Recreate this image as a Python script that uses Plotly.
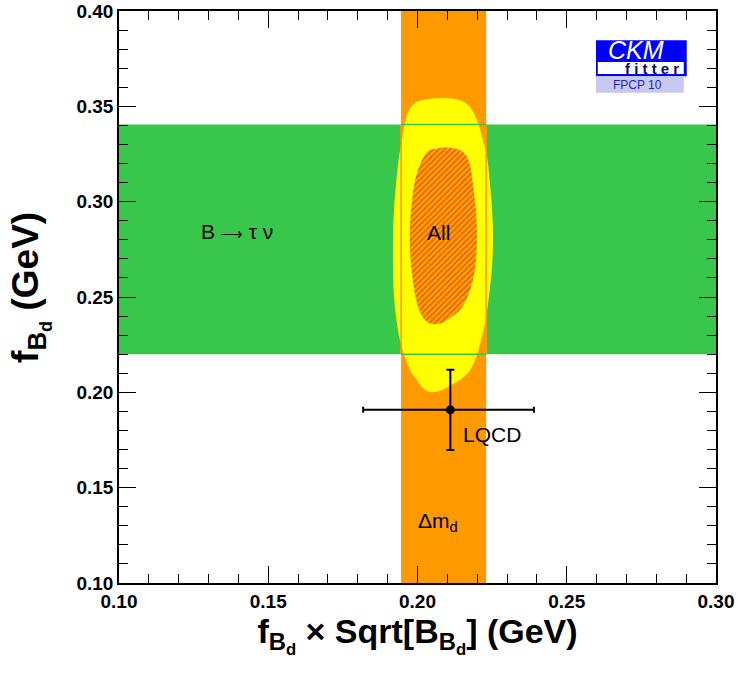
import plotly.graph_objects as go

# ---- data ----
dm_band = [0.1945, 0.2230]          # Delta m_d band in x (f_Bd*sqrt(B_Bd))
btau_band = [0.2200, 0.3405]        # B -> tau nu band in y (f_Bd)

all_outer_x = [0.2018, 0.2075, 0.2126, 0.2149, 0.2166, 0.2183, 0.2203, 0.2219, 0.2233, 0.2243,
               0.2250, 0.2253, 0.2250, 0.2240, 0.2226, 0.2206, 0.2186, 0.2169, 0.2142, 0.2109,
               0.2075, 0.2042, 0.2018, 0.1998, 0.1975, 0.1958, 0.1941, 0.1931, 0.1921, 0.1918,
               0.1918, 0.1921, 0.1928, 0.1938, 0.1948, 0.1958, 0.1972, 0.1992]
all_outer_y = [0.3533, 0.3544, 0.3539, 0.3528, 0.3512, 0.3481, 0.3413, 0.3324, 0.3234, 0.3088,
               0.2957, 0.2815, 0.2668, 0.2511, 0.2364, 0.2233, 0.2144, 0.2102, 0.2065, 0.2034,
               0.2007, 0.2002, 0.2023, 0.2065, 0.2117, 0.2186, 0.2275, 0.2364, 0.2511, 0.2668,
               0.2815, 0.2957, 0.3088, 0.3234, 0.3324, 0.3413, 0.3481, 0.3518]

all_inner_x = [0.2042, 0.2075, 0.2116, 0.2142, 0.2162, 0.2176, 0.2186, 0.2196, 0.2199, 0.2196,
               0.2186, 0.2166, 0.2142, 0.2109, 0.2082, 0.2049, 0.2025, 0.2008, 0.1992, 0.1982,
               0.1975, 0.1975, 0.1982, 0.1992, 0.2008, 0.2025]
all_inner_y = [0.3271, 0.3282, 0.3282, 0.3271, 0.3245, 0.3192, 0.3088, 0.2957, 0.2825, 0.2694,
               0.2589, 0.2495, 0.2432, 0.2390, 0.2364, 0.2359, 0.2380, 0.2422, 0.2511, 0.2616,
               0.2747, 0.2878, 0.3009, 0.3114, 0.3192, 0.3245]

lqcd_x = [0.2110]
lqcd_y = [0.1908]
lqcd_xerr_minus = [0.0292]
lqcd_xerr_plus = [0.0280]
lqcd_yerr = [0.0210]

x_range = [0.10, 0.30]
y_range = [0.10, 0.40]

GREEN = "#38c74a"
ORANGE = "#ff9900"
YELLOW = "#ffff00"
FONT = "Liberation Sans, Arial, sans-serif"

fig = go.Figure()

# B -> tau nu band
fig.add_trace(go.Scatter(
    x=[x_range[0], x_range[1], x_range[1], x_range[0], x_range[0]],
    y=[btau_band[0], btau_band[0], btau_band[1], btau_band[1], btau_band[0]],
    fill="toself", fillcolor=GREEN, mode="lines", line=dict(width=0),
    hoverinfo="skip", showlegend=False))
# Delta m_d band
fig.add_trace(go.Scatter(
    x=[dm_band[0], dm_band[1], dm_band[1], dm_band[0], dm_band[0]],
    y=[y_range[0], y_range[0], y_range[1], y_range[1], y_range[0]],
    fill="toself", fillcolor=ORANGE, mode="lines", line=dict(width=0),
    hoverinfo="skip", showlegend=False))
# All: outer contour
fig.add_trace(go.Scatter(
    x=all_outer_x + all_outer_x[:1], y=all_outer_y + all_outer_y[:1],
    fill="toself", fillcolor=YELLOW, mode="lines", line=dict(width=0, shape="spline"),
    hoverinfo="skip", showlegend=False))
# All: inner hatched contour
fig.add_trace(go.Scatter(
    x=all_inner_x + all_inner_x[:1], y=all_inner_y + all_inner_y[:1],
    fill="toself", fillcolor="#ffb400", mode="lines", line=dict(width=0, shape="spline"),
    fillpattern=dict(shape="/", fgcolor="#dc1e14", bgcolor="#ffb400", size=4, solidity=0.6),
    hoverinfo="skip", showlegend=False))
# band outlines visible on top of the contour
for xv in dm_band:
    fig.add_trace(go.Scatter(x=[xv, xv], y=btau_band, mode="lines",
                             line=dict(color=ORANGE, width=1.5), hoverinfo="skip", showlegend=False))
for yv in btau_band:
    fig.add_trace(go.Scatter(x=dm_band, y=[yv, yv], mode="lines",
                             line=dict(color=GREEN, width=1.5), hoverinfo="skip", showlegend=False))
# LQCD point
fig.add_trace(go.Scatter(
    x=lqcd_x, y=lqcd_y, mode="markers",
    marker=dict(color="black", size=9),
    error_x=dict(type="data", symmetric=False, array=lqcd_xerr_plus, arrayminus=lqcd_xerr_minus,
                 color="black", thickness=2, width=3),
    error_y=dict(type="data", array=lqcd_yerr, color="black", thickness=2, width=4),
    hoverinfo="skip", showlegend=False))

txt = dict(family=FONT, size=21, color="black")
fig.add_annotation(x=0.1395, y=0.2841,
                   text="B <span style='font-size:15px'>⟶</span> τ ν", showarrow=False, font=txt)
fig.add_annotation(x=0.2069, y=0.2840, text="All", showarrow=False, font=txt)
fig.add_annotation(x=0.2146, y=0.1777, text="LQCD", showarrow=False, font=txt, xanchor="left")
fig.add_annotation(x=0.2069, y=0.1320, text="Δm<sub>d</sub>", showarrow=False, font=txt)

# CKMfitter logo (paper coordinates of the plot area)
fig.add_shape(type="rect", xref="paper", yref="paper", x0=0.799, x1=0.951, y0=0.886, y1=0.949,
              fillcolor="#0000ff", line=dict(width=0), layer="above")
fig.add_shape(type="rect", xref="paper", yref="paper", x0=0.802, x1=0.946, y0=0.890, y1=0.911,
              fillcolor="white", line=dict(width=0), layer="above")
fig.add_shape(type="rect", xref="paper", yref="paper", x0=0.799, x1=0.946, y0=0.857, y1=0.885,
              fillcolor="#c8c8f0", line=dict(width=0), layer="above")
fig.add_annotation(xref="paper", yref="paper", x=0.866, y=0.931, text="CKM", showarrow=False,
                   xanchor="center", yanchor="middle",
                   font=dict(family=FONT, size=25, color="white", style="italic"))
fig.add_annotation(xref="paper", yref="paper", x=0.892, y=0.900, text="f i t t e r", showarrow=False,
                   xanchor="center", yanchor="middle",
                   font=dict(family=FONT, size=15, color="#0a0a6e", weight="bold"))
fig.add_annotation(xref="paper", yref="paper", x=0.869, y=0.871, text="FPCP 10", showarrow=False,
                   xanchor="center", yanchor="middle",
                   font=dict(family=FONT, size=12, color="#2222cc"))

axfont = dict(family=FONT, size=19, color="black", weight="bold")
titlefont = dict(family=FONT, size=34, color="black", weight="bold")

# y-axis title as rotated annotation (for precise placement)
fig.add_annotation(xref="paper", yref="paper", x=-0.148, y=0.517, text="f<sub>B<sub>d</sub></sub> (GeV)",
                   textangle=-90, showarrow=False, xanchor="center", yanchor="middle",
                   font=dict(family=FONT, size=37, color="black", weight="bold"))

fig.update_xaxes(range=x_range, tick0=0.10, dtick=0.05, tickformat=".2f",
                 ticks="inside", ticklen=17, tickwidth=1, tickcolor="black",
                 minor=dict(dtick=0.01, ticks="inside", ticklen=9, tickwidth=1, tickcolor="black"),
                 showline=True, linecolor="black", linewidth=1.5, mirror="ticks",
                 showgrid=False, zeroline=False, tickfont=axfont, automargin=False,
                 ticklabeloverflow="allow",
                 title=dict(text="f<sub>B<sub>d</sub></sub> × Sqrt[B<sub>B<sub>d</sub></sub>] (GeV)",
                            font=titlefont, standoff=4))
fig.update_yaxes(range=y_range, tick0=0.10, dtick=0.05, tickformat=".2f",
                 ticks="inside", ticklen=17, tickwidth=1, tickcolor="black",
                 minor=dict(dtick=0.01, ticks="inside", ticklen=9, tickwidth=1, tickcolor="black"),
                 showline=True, linecolor="black", linewidth=1.5, mirror="ticks",
                 showgrid=False, zeroline=False, tickfont=axfont, automargin=False,
                 ticklabeloverflow="allow")

fig.update_layout(width=738, height=673, margin=dict(l=119, r=22, t=11, b=90),
                  plot_bgcolor="white", paper_bgcolor="white")

# remove the default 8px page margin so the figure fills the 738x673 window exactly
fig.write_html("out.html", config={"displayModeBar": False},
               post_script="document.body.style.margin='0';")
